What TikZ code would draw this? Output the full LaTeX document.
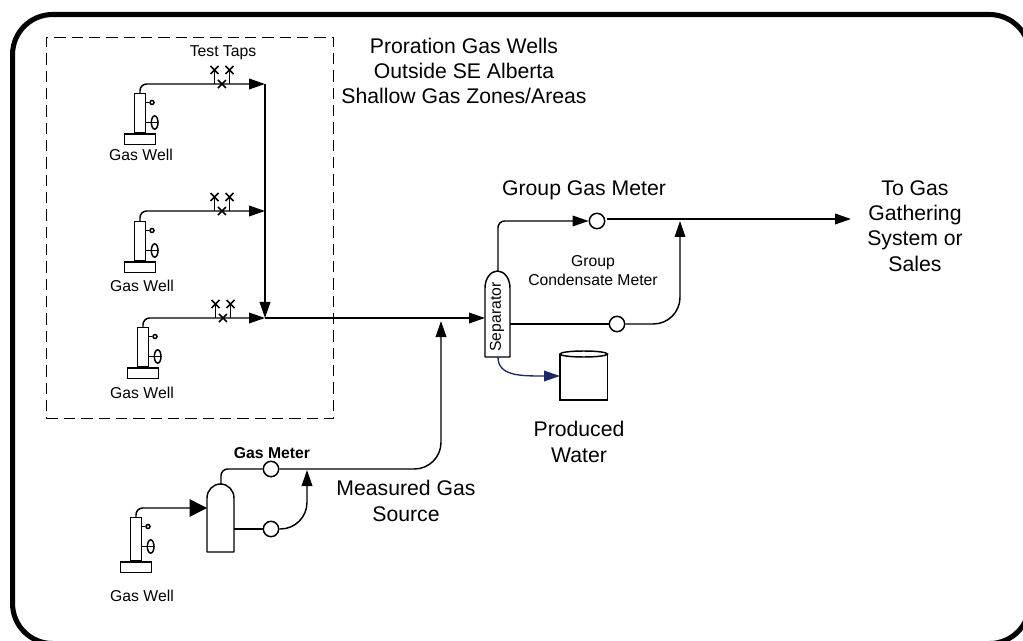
\documentclass[tikz,border=0pt]{standalone}
\usepackage{fontspec}
\setmainfont{Liberation Sans}
\usetikzlibrary{arrows.meta,shapes.geometric}
\definecolor{ink}{HTML}{000000}
\definecolor{waterline}{HTML}{1B2A6B}
\tikzset{
  >=Triangle,
  every node/.style={text=ink,inner sep=0pt,align=center},
  small/.style={font=\fontsize{11.8pt}{14.25pt}\selectfont},
  large/.style={font=\fontsize{15.9pt}{19pt}\selectfont},
  frame/.style={draw=ink,line width=3.8pt,rounded corners=30pt},
  testbox/.style={draw=ink,line width=0.9pt,dash pattern=on 8.5pt off 4.5pt},
  part/.style={draw=ink,line width=1.1pt,fill=white},
  pipe/.style={draw=ink,line width=1.1pt,rounded corners=5pt},
  bendpipe/.style={pipe,rounded corners=20pt},
  tiptail/.style={-{Triangle[length=12pt,width=8pt]}},
  flow/.style={pipe,tiptail},
  bigflow/.style={pipe,-{Triangle[length=13pt,width=13pt]}},
  water/.style={draw=waterline,line width=1pt,tiptail},
  meter/.style={circle,part,minimum size=11.5pt},
  tapmark/.style={draw=ink,line width=1.1pt},
}
% well with its name, tube top centre at #2
\newcommand{\gaswell}[3]{
  \coordinate (#1) at #2;
  \node[part,minimum width=8pt,minimum height=#3,anchor=north] (#1tube) at (#1) {};
  \node[part,minimum width=23pt,minimum height=8pt,anchor=north] (#1base) at (#1tube.south) {};
  \node[part,circle,minimum size=3pt] (#1dot) at ([xshift=9pt,yshift=-9.5*0.75pt]#1) {};
  \node[part,ellipse,minimum width=5pt,minimum height=10pt] (#1wheel) at ([xshift=11pt,yshift=-29.5*0.75pt]#1) {};
  \draw[tapmark] (#1tube.east |- #1dot) -- (#1dot);
  \draw[tapmark] (#1tube.east |- #1wheel) -- (#1wheel.east);
}
% two raised taps and one tap in line, left stem at #1
\newcommand{\testtaps}[2]{
  \coordinate (#1a) at #2;
  \coordinate (#1b) at ([xshift=11.25pt]#1a);
  \coordinate (#1c) at ([xshift=5.6pt]#1a);
  \coordinate (#1d) at ([yshift=10.5pt]#1a);
  \coordinate (#1e) at ([yshift=10.5pt]#1b);
  \draw[tapmark] (#1a) -- (#1d); \draw[tapmark] (#1b) -- (#1e);
  \foreach \tap in {c,d,e}{
    \draw[tapmark] ([shift={(-3pt,-3pt)}]#1\tap) -- ([shift={(3pt,3pt)}]#1\tap);
    \draw[tapmark] ([shift={(-3pt,3pt)}]#1\tap) -- ([shift={(3pt,-3pt)}]#1\tap);
  }
}
\begin{document}
\begin{tikzpicture}[x=0.75pt,y=-0.75pt]
  \useasboundingbox (0,0) rectangle (1023,641);
  \begin{scope}
  \clip (0,0) rectangle (1023,641);
  \node[frame,minimum width=1017*0.75pt,minimum height=629*0.75pt,anchor=north west] (border) at (10,12) {};
  \end{scope}
  \node[testbox,minimum width=287*0.75pt,minimum height=381*0.75pt,anchor=north west] (testarea) at (46,37) {};

  \gaswell{wellone}{(140,93)}{29pt}
  \gaswell{welltwo}{(140,221)}{29pt}
  \gaswell{wellthree}{(143,327)}{29pt}
  \gaswell{wellfour}{(136,517)}{32pt}
  \node[small] (lblone) at (141,155) {Gas Well};
  \node[small] (lbltwo) at (142,286) {Gas Well};
  \node[small] (lblthree) at (142,393) {Gas Well};
  \node[small] (lblfour) at (142,596) {Gas Well};

  \coordinate (headone) at (265,84);
  \coordinate (headtwo) at (265,211);
  \coordinate (junction) at (265,318);
  \draw[flow] (wellone) |- (headone);
  \draw[flow] (welltwo) |- (headtwo);
  \draw[flow] (wellthree) |- (junction);
  \draw[flow] (headone) -- (junction);
  \testtaps{tapone}{(214.5,84)}
  \testtaps{taptwo}{(214.5,211)}
  \testtaps{tapthree}{(215.5,318)}

  \draw[part,line join=round] (485,357) coordinate (sepsw) -- (485,288) arc[start angle=180,end angle=0,x radius=12.5,y radius=-17] -- (510,357) coordinate (sepse) -- cycle;
  \node[small,rotate=90] (sepname) at (497,317) {Separator};
  \coordinate (sepin) at (485,318);
  \coordinate (septop) at (498,271);
  \coordinate (sepout) at (510,324);
  \coordinate (sepbot) at (498,357);
  \draw[flow] (junction) -- (sepin);

  \node[meter] (groupgas) at (597,221) {};
  \node[meter] (groupcond) at (617,324) {};
  \coordinate (sales) at (851,219);
  \coordinate (condjoin) at (680,221);
  \draw[flow] (septop) |- (groupgas);
  \draw[flow] (groupgas.east) ++(2,-2) coordinate (gasleave) -- (sales);
  \draw[pipe] (sepout) -- (groupcond);
  \draw[bendpipe,tiptail] (groupcond) -| (condjoin);

  \draw[part] (560,354) -- (560,400) -- (607.5,400) -- (607.5,354);
  \draw[part] (583.7,354) ellipse[x radius=23.7,y radius=3];
  \coordinate (tankin) at (560,376);
  \draw[water] (sepbot) .. controls (498,376) and (520,376) .. (tankin);

  \draw[part,line join=round] (207,552) coordinate (gasbase) -- (207,498) arc[start angle=180,end angle=0,x radius=13.5,y radius=-14] -- (234,552) -- cycle;
  \coordinate (gasin) at (207,508);
  \coordinate (gastop) at (221,484);
  \coordinate (gasout) at (234,529);
  \node[meter] (testgas) at (271,469) {};
  \node[meter] (testcond) at (271,529) {};
  \coordinate (gasjoin) at (307,470);
  \coordinate (mainjoin) at (441,321);
  \draw[bigflow] (wellfour) |- (gasin);
  \draw[pipe] (gastop) |- (testgas);
  \draw[pipe] (gasout) -- (testcond);
  \draw[bendpipe,tiptail] (testcond) -| (gasjoin);
  \draw[bendpipe,tiptail] (testgas) -| (mainjoin);

  \node[small] (taps) at (223,53) {Test Taps};
  \node[large] (zones) at (464,71) {Proration Gas Wells\\Outside SE Alberta\\Shallow Gas Zones/Areas};
  \node[large] (grouplbl) at (584,190) {Group Gas Meter};
  \node[large] (saleslbl) at (915,226) {To Gas\\Gathering\\System or\\Sales};
  \node[small] (condlbl) at (593,271) {Group\\Condensate Meter};
  \node[large] (waterlbl) at (579,442) {Produced\\Water};
  \node[small,font=\fontsize{11.8pt}{14.25pt}\selectfont\bfseries] (meterlbl) at (272,453) {Gas Meter};
  \node[large] (sourcelbl) at (406,501) {Measured Gas\\Source};
\end{tikzpicture}
\end{document}
